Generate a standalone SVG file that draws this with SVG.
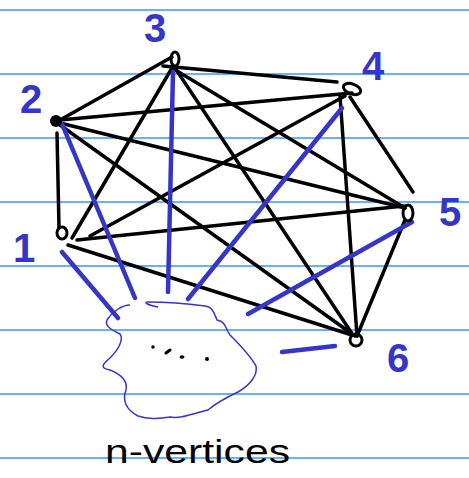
<svg xmlns="http://www.w3.org/2000/svg" width="469" height="478" viewBox="0 0 469 478">
<style>
.rule{stroke:#3399ff;stroke-width:1.5}
.e{stroke:#000;stroke-width:3.5;stroke-linecap:round;fill:none}
.b{stroke:#3535c8;stroke-width:4.5;stroke-linecap:round;fill:none}
.v{stroke:#000;stroke-width:3;fill:none}
.lbl{font-family:"Liberation Sans",Arial,sans-serif;font-size:40px;font-weight:bold;fill:#3535c8;text-anchor:middle}
</style>
<rect width="469" height="478" fill="#fff"/>
<g id="rules">
<line class="rule" x1="0" y1="10" x2="469" y2="10"/>
<line class="rule" x1="0" y1="74" x2="469" y2="74"/>
<line class="rule" x1="0" y1="138" x2="469" y2="138"/>
<line class="rule" x1="0" y1="202" x2="469" y2="202"/>
<line class="rule" x1="0" y1="266" x2="469" y2="266"/>
<line class="rule" x1="0" y1="330" x2="469" y2="330"/>
<line class="rule" x1="0" y1="394" x2="469" y2="394"/>
<line class="rule" x1="0" y1="458" x2="469" y2="458"/>
</g>
<g id="connectors">
<line class="e" x1="57" y1="133" x2="59" y2="228"/>
<line class="e" x1="72" y1="238" x2="172" y2="68"/>
<line class="e" x1="90" y1="236" x2="345" y2="96"/>
<line class="e" x1="77" y1="240" x2="404" y2="206"/>
<line class="e" x1="68" y1="245" x2="352" y2="335"/>
<line class="e" x1="60" y1="120" x2="172" y2="57"/>
<line class="e" x1="60" y1="120" x2="352" y2="93"/>
<line class="e" x1="60" y1="123" x2="405" y2="208"/>
<line class="e" x1="60" y1="125" x2="355" y2="336"/>
<line class="e" x1="163" y1="66" x2="337" y2="82"/>
<line class="e" x1="172" y1="68" x2="405" y2="208"/>
<line class="e" x1="175" y1="68" x2="353" y2="335"/>
<line class="e" x1="350" y1="97" x2="413" y2="192"/>
<line class="e" x1="340" y1="96" x2="357" y2="336"/>
<line class="e" x1="405" y1="220" x2="357" y2="336"/>
<line class="b" x1="62" y1="124" x2="135" y2="298"/>
<line class="b" x1="173" y1="72" x2="168" y2="292"/>
<line class="b" x1="342" y1="108" x2="188" y2="299"/>
<line class="b" x1="412" y1="222" x2="248" y2="314"/>
<line class="b" x1="62" y1="252" x2="118" y2="318"/>
<line class="b" x1="282" y1="352" x2="335" y2="346"/>
</g>
<g id="v1"><ellipse class="v" cx="62" cy="233" rx="5" ry="6"/><text class="lbl" x="24" y="262" font-size="34">1</text></g>
<g id="v2"><circle cx="56" cy="121" r="6" fill="#000"/><text class="lbl" x="31" y="113">2</text></g>
<g id="v3"><ellipse class="v" cx="175" cy="59" rx="4" ry="7"/><text class="lbl" x="155" y="42">3</text></g>
<g id="v4"><ellipse class="v" cx="352" cy="89" rx="9" ry="5" transform="rotate(20 352 89)"/><text class="lbl" x="373" y="80">4</text></g>
<g id="v5"><ellipse class="v" cx="408" cy="213" rx="5" ry="8"/><text class="lbl" x="450" y="226">5</text></g>
<g id="v6"><circle class="v" cx="356" cy="340" r="6"/><text class="lbl" x="398" y="372">6</text></g>
<g id="blob">
<path d="M130,305 C122,305 112,312 107,320 C104,326 112,330 120,334 C124,340 118,350 110,358 C104,363 98,368 110,370 C120,374 128,380 126,390 C122,400 126,410 138,416 C150,420 160,418 170,417 C180,419 192,414 208,410 C214,405 225,398 238,392 C250,385 258,375 256,366 C250,355 240,345 230,335 C225,328 226,322 217,320 C214,313 213,307 205,306 C190,304 170,302 148,302 C143,302 147,305 158,307" fill="none" stroke="#3535c8" stroke-width="1.5"/>
<circle cx="153" cy="347" r="1.8" fill="#000"/>
<line x1="166" y1="353" x2="170" y2="350" stroke="#000" stroke-width="3" stroke-linecap="round"/>
<ellipse cx="182" cy="357" rx="2.5" ry="1.8" fill="#000"/>
<circle cx="207" cy="359" r="2" fill="#000"/>
</g>
<g id="caption"><text x="105" y="463" font-family="'Liberation Sans',Arial,sans-serif" font-size="34" textLength="185" lengthAdjust="spacingAndGlyphs" fill="#000">n-vertices</text></g>
</svg>
